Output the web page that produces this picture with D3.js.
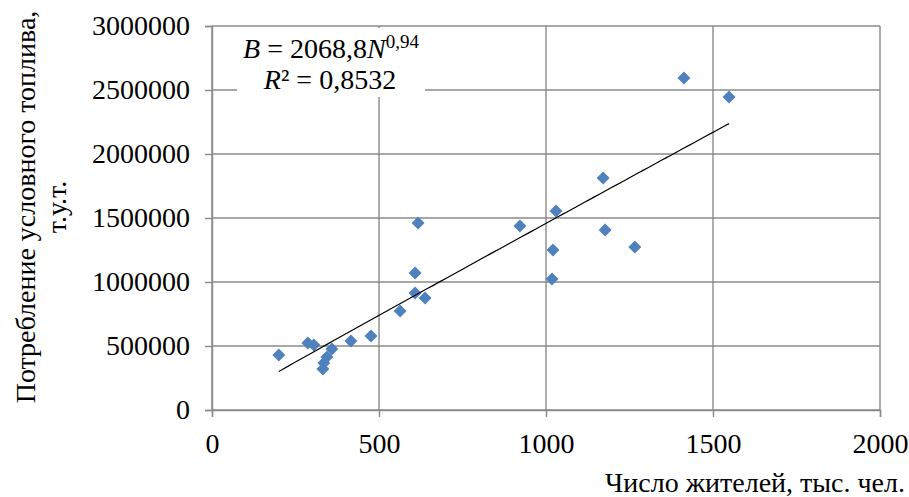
<!DOCTYPE html>
<html><head><meta charset="utf-8">
<script src="https://cdn.jsdelivr.net/npm/d3@7"></script>
<style>body{margin:0;background:#fff}svg{display:block}text{font-family:"Liberation Serif","Times New Roman",serif;fill:#000}</style>
</head><body><svg id="c" width="909" height="497"></svg>
<script>
const population = [200,287,305,359,344,335,332,416,476,563,608,608,638,617,922,1030,1021,1018,1171,1177,1266,1413,1548];
const fuel = [430000,523000,508000,476000,414000,367000,320000,539000,578000,773000,914000,1070000,875000,1461000,1438000,1555000,1250000,1023000,1812000,1406000,1273000,2594000,2445000];
const xTicks = [0,500,1000,1500,2000];
const yTicks = [0,500000,1000000,1500000,2000000,2500000,3000000];
const trendCoef = [1674, 0.98];
const trendRange = [200, 1548];
const eqLine1 = ["B", " = 2068,8", "N", "0,94"];
const eqLine2 = ["R", "²", " = 0,8532"];
const xTitle = "Число жителей, тыс. чел.";
const yTitle = ["Потребление условного топлива,", "т.у.т."];

const FS = "28px";
const svg = d3.select("#c");
const x = d3.scaleLinear().domain([0,2000]).range([212,880]);
const y = d3.scaleLinear().domain([0,3000000]).range([410,26]);
const grid = "#8a8a8a";

// gridlines
svg.append("g").selectAll("line").data(yTicks).join("line")
  .attr("x1",212).attr("x2",880).attr("y1",d=>y(d)).attr("y2",d=>y(d))
  .attr("stroke",grid).attr("stroke-width",1.4);
svg.append("g").selectAll("line").data(xTicks).join("line")
  .attr("x1",d=>x(d)).attr("x2",d=>x(d)).attr("y1",26).attr("y2",410)
  .attr("stroke",grid).attr("stroke-width",1.4);

// axes
const yAxis = d3.axisLeft(y).tickValues(yTicks).tickSize(7).tickPadding(15).tickFormat(d3.format("d"));
const gy = svg.append("g").attr("transform","translate(212,0)").call(yAxis);
const xAxis = d3.axisBottom(x).tickValues(xTicks).tickSize(7).tickPadding(16).tickFormat(d3.format("d"));
const gx = svg.append("g").attr("transform","translate(0,410)").call(xAxis);
[gx,gy].forEach(g=>{
  g.attr("font-family",null).attr("font-size",null);
  g.select(".domain").attr("stroke",grid).attr("stroke-width",1.4);
  g.selectAll(".tick line").attr("stroke",grid).attr("stroke-width",1.4);
  g.selectAll(".tick text").style("font-family","'Liberation Serif'").style("font-size",FS).attr("fill","#000");
});

// equation box
svg.append("rect").attr("x",237).attr("y",28).attr("width",188).attr("height",69).attr("fill","#fff");
const t1 = svg.append("text").attr("x",331).attr("y",58).attr("text-anchor","middle").style("font-size",FS);
t1.append("tspan").style("font-style","italic").text(eqLine1[0]);
t1.append("tspan").text(eqLine1[1]);
t1.append("tspan").style("font-style","italic").text(eqLine1[2]);
t1.append("tspan").attr("dy",-10).style("font-size","19px").text(eqLine1[3]);
const t2 = svg.append("text").attr("x",330).attr("y",89).attr("text-anchor","middle").style("font-size",FS);
t2.append("tspan").style("font-style","italic").text(eqLine2[0]);
t2.append("tspan").text(eqLine2[1]);
t2.append("tspan").text(eqLine2[2]);

// points
const pts = population.map((p,i)=>({p, f:fuel[i]}));
const r = 6.5;
svg.append("g").selectAll("path").data(pts).join("path")
  .attr("d",`M0,${-r}L${r},0L0,${r}L${-r},0Z`)
  .attr("transform",d=>`translate(${x(d.p)},${y(d.f)})`)
  .attr("fill","#4F81BD");

// trend line
const tx = d3.range(0,101).map(i=>trendRange[0]+(trendRange[1]-trendRange[0])*i/100);
svg.append("path").datum(tx)
  .attr("d",d3.line().x(d=>x(d)).y(d=>y(trendCoef[0]*Math.pow(d,trendCoef[1]))))
  .attr("fill","none").attr("stroke","#000").attr("stroke-width",1.2);

// titles
svg.append("text").attr("x",905).attr("y",492).attr("text-anchor","end").style("font-size",FS).text(xTitle);
const yt = svg.append("text").attr("transform","translate(0,207) rotate(-90)").attr("text-anchor","middle").style("font-size",FS);
yt.append("tspan").attr("x",0).attr("y",35).text(yTitle[0]);
yt.append("tspan").attr("x",0).attr("y",66).text(yTitle[1]);
</script></body></html>
